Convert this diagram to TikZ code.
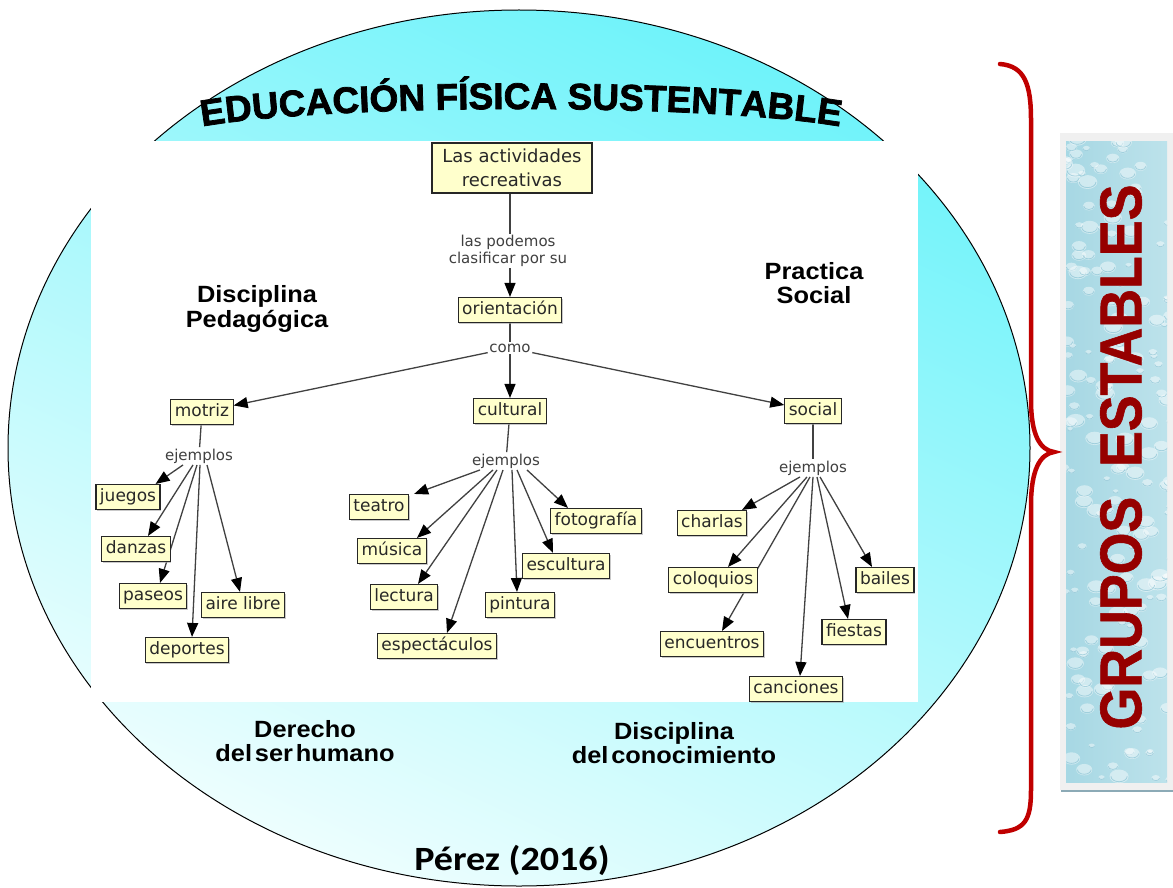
\documentclass[tikz,border=0pt]{standalone}
\usepackage{fontspec}
\usetikzlibrary{arrows.meta,decorations.text,shadows}
\newfontfamily\mapfont{DejaVu Sans}
\newfontfamily\labfont[FakeStretch=1.08]{Liberation Sans}
\newfontfamily\perezfont[FakeStretch=1.12]{Carlito}
\newfontfamily\titlefont[FakeBold=2]{Liberation Sans}
\newfontfamily\grupofont[FakeStretch=0.91,FakeBold=1]{Liberation Sans}

\definecolor{boxfill}{RGB}{255,255,204}
\definecolor{mapline}{RGB}{65,65,65}
\definecolor{maptext}{RGB}{40,40,40}
\definecolor{bracered}{RGB}{192,0,0}
\definecolor{grupored}{RGB}{150,0,0}
\definecolor{cyantop}{RGB}{110,243,250}
\definecolor{cyanbot}{RGB}{238,254,254}
\definecolor{texbase}{RGB}{172,219,230}
\definecolor{texdark}{RGB}{120,185,205}
\definecolor{framegray}{RGB}{240,240,240}
\definecolor{shadowblue}{RGB}{140,170,182}

\pgfdeclarelayer{bg}
\pgfdeclarelayer{edges}
\pgfsetlayers{bg,edges,main}

\tikzset{
  cbox/.style={draw=black!85, fill=boxfill, line width=1.1pt, inner xsep=4pt, inner ysep=4pt,
    text height=13pt, text depth=4pt, font=\mapfont\fontsize{17}{20}\selectfont, text=maptext,
    drop shadow={shadow xshift=1.2pt, shadow yshift=-1.2pt, fill=black!35, opacity=0.6}},
  lab/.style={inner sep=1.5pt, font=\mapfont\fontsize{15}{17}\selectfont, text=black!75},
  conn/.style={draw=mapline, line width=1.3pt},
  arr/.style={conn, -{Triangle[length=14pt,width=11pt,color=black]}},
  boldlab/.style={align=center, font=\labfont\bfseries\fontsize{23.5}{24.5}\selectfont, text=black, inner sep=0pt},
}

\begin{document}
\begin{tikzpicture}[x=1pt,y=-1pt]
\useasboundingbox (0,0) rectangle (1173,888);

\begin{pgfonlayer}{bg}
  % big ellipse
  \path[top color=cyantop, bottom color=cyanbot, shading angle=-25] (519,448) ellipse (511pt and 438pt);
  \draw[black, line width=1pt] (519,448) ellipse (511pt and 438pt);
  % white concept-map area
  \fill[white] (91,141) rectangle (918,702);
  % right panel
  \fill[framegray] (1060,133) rectangle (1173,790);
  \draw[shadowblue, line width=2.5pt] (1061,791) -- (1173,791);
  \begin{scope}
    \clip (1066,142) rectangle (1167,782);
    \fill[left color=texbase!90!texdark, right color=texbase!80!white] (1066,142) rectangle (1167,782);
    \pgfmathsetseed{42}
    \foreach \i in {1,...,170}{
      \pgfmathsetmacro{\px}{1062+110*rnd}
      \pgfmathsetmacro{\py}{138+650*rnd}
      \pgfmathsetmacro{\rr}{2+5*rnd}
      \fill[white, opacity=0.45] (\px,\py) ellipse ({1.4*\rr pt} and {\rr pt});
      \draw[texdark, opacity=0.55, line width=0.8pt] ([xshift=-1.2*\rr pt]\px,\py) arc[start angle=180, end angle=360, x radius=1.2*\rr pt, y radius=0.8*\rr pt];
    }
  \end{scope}
\end{pgfonlayer}

% brace
\draw[bracered, line width=4.5pt, line cap=round]
  (1000,64) .. controls (1025,66) and (1031,85) .. (1031,120) -- (1031,400)
  .. controls (1031,435) and (1040,450) .. (1054,452)
  .. controls (1040,454) and (1031,470) .. (1031,505) -- (1031,790)
  .. controls (1031,820) and (1025,830) .. (1000,832);

% vertical label
\node[rotate=90, text=grupored, font=\grupofont\bfseries\fontsize{59}{59}\selectfont, inner sep=0pt] (grupos) at (1121,457) {GRUPOS\ \ ESTABLES};

% title along arc
\path[decorate, decoration={text along path, text align=center,
  text={|\titlefont\bfseries\fontsize{37}{37}\selectfont|EDUCACIÓN FÍSICA SUSTENTABLE}}]
  (199,127) .. controls (330,103) and (710,103) .. (843,127);

% concept map nodes
\node[cbox, align=center, text height=, text depth=, minimum width=160pt, minimum height=50pt,
  font=\mapfont\fontsize{18}{24}\selectfont] (top) at (512,168) {Las actividades\\recreativas};
\node[lab, align=center] (lab1) at (508,251) {las podemos\\clasificar por su};
\node[cbox] (orient) at (510,310) {orientación};
\node[lab] (como) at (510,348) {como};
\node[cbox] (motriz) at (202,412) {motriz};
\node[cbox] (cultural) at (510,411) {cultural};
\node[cbox] (social) at (813,411) {social};
\node[lab] (ejM) at (199,456) {ejemplos};
\node[lab] (ejC) at (506,461) {ejemplos};
\node[lab] (ejS) at (813,468) {ejemplos};

\node[cbox] (juegos) at (128,497) {juegos};
\node[cbox] (danzas) at (136,549) {danzas};
\node[cbox] (paseos) at (153,596) {paseos};
\node[cbox] (aire) at (243,605) {aire libre};
\node[cbox] (deportes) at (187,650) {deportes};

\node[cbox] (teatro) at (379,507) {teatro};
\node[cbox] (musica) at (392,551) {música};
\node[cbox] (lectura) at (404,597) {lectura};
\node[cbox] (espect) at (437,646) {espectáculos};
\node[cbox] (pintura) at (520,605) {pintura};
\node[cbox] (escultura) at (566,566) {escultura};
\node[cbox] (foto) at (596,521) {fotografía};

\node[cbox] (charlas) at (712,523) {charlas};
\node[cbox] (coloquios) at (713,580) {coloquios};
\node[cbox] (encuentros) at (712,644) {encuentros};
\node[cbox] (canciones) at (796,689) {canciones};
\node[cbox] (fiestas) at (854,632) {fiestas};
\node[cbox] (bailes) at (885,580) {bailes};

% connectors
\begin{pgfonlayer}{edges}
  \draw[conn] (top.south -| orient) -- (lab1.north -| orient);
  \draw[arr] (lab1.south -| orient) -- (orient.north);
  \draw[conn] (orient) -- (como);
  \draw[arr] (como) -- (motriz);
  \draw[arr] (como) -- (cultural);
  \draw[arr] (como) -- (social);
  \draw[conn] (motriz) -- (ejM);
  \draw[conn] (cultural) -- (ejC);
  \draw[conn] (social) -- (ejS);
  % motriz examples
  \draw[arr] ([xshift=-16pt]ejM.south) -- ([xshift=-5pt]juegos.north east);
  \draw[arr] ([xshift=-6pt]ejM.south) -- ([xshift=12pt]danzas.north);
  \draw[arr] ([xshift=-2pt]ejM.south) -- ([xshift=7pt]paseos.north);
  \draw[arr] ([xshift=1pt]ejM.south) -- ([xshift=5pt]deportes.north);
  \draw[arr] ([xshift=8pt]ejM.south) -- ([xshift=-3pt]aire.north);
  % cultural examples
  \draw[arr] ([xshift=-26pt]ejC.south) -- ([xshift=5pt]teatro.north east);
  \draw[arr] ([xshift=-13pt]ejC.south) -- ([xshift=25pt]musica.north);
  \draw[arr] ([xshift=-9pt]ejC.south) -- ([xshift=14pt]lectura.north);
  \draw[arr] ([xshift=-3pt]ejC.south) -- ([xshift=10pt]espect.north);
  \draw[arr] ([xshift=6pt]ejC.south) -- ([xshift=-3pt]pintura.north);
  \draw[arr] ([xshift=11pt]ejC.south) -- ([xshift=-13pt]escultura.north);
  \draw[arr] ([xshift=21pt]ejC.south) -- ([xshift=-28pt]foto.north);
  % social examples
  \draw[arr] ([xshift=-13pt]ejS.south) -- ([xshift=30pt]charlas.north);
  \draw[arr] ([xshift=-6pt]ejS.south) -- ([xshift=15pt]coloquios.north);
  \draw[arr] ([xshift=-3pt]ejS.south) -- ([xshift=10pt]encuentros.north);
  \draw[arr] ([xshift=0pt]ejS.south) -- ([xshift=4pt]canciones.north);
  \draw[arr] ([xshift=4pt]ejS.south) -- ([xshift=-6pt]fiestas.north);
  \draw[arr] ([xshift=7pt]ejS.south) -- ([xshift=-13pt]bailes.north);
\end{pgfonlayer}

% bold labels
\node[boldlab] (pedag) at (257,309) {Disciplina\\Pedagógica};
\node[boldlab] (practica) at (814,283) {Practica\\Social};
\node[boldlab] (derecho) at (305,741) {Derecho\\del\hspace{0.12em}ser\hspace{0.12em}humano};
\node[boldlab] (conoc) at (674,743) {Disciplina\\del\hspace{0.12em}conocimiento};
\node[anchor=base, font=\perezfont\bfseries\fontsize{34}{34}\selectfont, inner sep=0pt] (perez) at (512,870) {Pérez (2016)};
\end{tikzpicture}
\end{document}
